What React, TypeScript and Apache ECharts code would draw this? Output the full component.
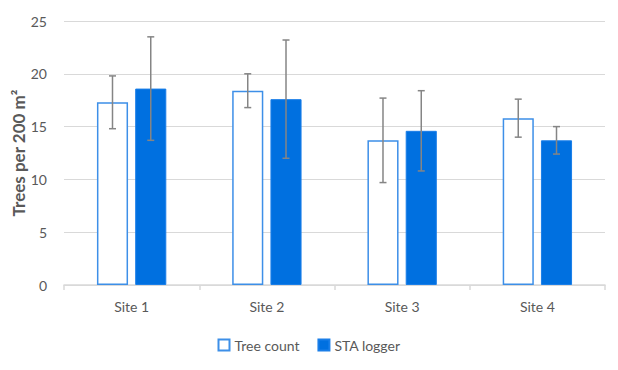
import React, { useEffect, useRef } from "react";
import * as echarts from "echarts";

const categories = ["Site 1", "Site 2", "Site 3", "Site 4"];
const treeCount = [17.3, 18.4, 13.7, 15.8];
const treeCountErr = [2.5, 1.6, 4.0, 1.8];
const staLogger = [18.6, 17.6, 14.6, 13.7];
const staLoggerErr = [4.9, 5.6, 3.8, 1.3];
const yTicks = { min: 0, max: 25, interval: 5 };

const FONT = "Lato, 'Open Sans', sans-serif";
const BAR_W = 0.23;
const BAR_GAP = 0.23;

function errSeries(vals: number[], errs: number[], side: number) {
  return {
    type: "custom",
    silent: true,
    z: 5,
    data: vals.map((v, i) => [i, v - errs[i], v + errs[i]]),
    encode: { x: 0, y: [1, 2] },
    renderItem: (params: any, api: any) => {
      const idx = api.value(0);
      const lo = api.coord([idx, api.value(1)]);
      const hi = api.coord([idx, api.value(2)]);
      const catW = api.size([1, 0])[0];
      const bw = catW * BAR_W;
      const off = side * (bw + bw * BAR_GAP) / 2;
      const x = lo[0] + off;
      const cap = 3.5;
      const style = { stroke: "#858585", lineWidth: 1.5 };
      return {
        type: "group",
        children: [
          { type: "line", shape: { x1: x, y1: hi[1], x2: x, y2: lo[1] }, style },
          { type: "line", shape: { x1: x - cap, y1: hi[1], x2: x + cap, y2: hi[1] }, style },
          { type: "line", shape: { x1: x - cap, y1: lo[1], x2: x + cap, y2: lo[1] }, style },
        ],
      };
    },
  };
}

export default function App() {
  const ref = useRef<HTMLDivElement>(null);
  useEffect(() => {
    const chart = echarts.init(ref.current!, null, { renderer: "svg" });
    chart.setOption({
      animation: false,
      textStyle: { fontFamily: FONT },
      grid: { left: 64, right: 13, top: 21, bottom: 85, containLabel: false, outerBoundsMode: "none" },
      legend: {
        bottom: 13,
        left: "center",
        itemWidth: 11,
        itemHeight: 11,
        itemGap: 18,
        icon: "rect",
        textStyle: { fontSize: 14, color: "#595959", fontFamily: FONT },
        data: ["Tree count", "STA logger"],
      },
      xAxis: {
        type: "category",
        data: categories,
        axisLine: { lineStyle: { color: "#d9d9d9", width: 1.5 } },
        axisTick: { show: true, length: 5, lineStyle: { color: "#d9d9d9", width: 1.5 } },
        axisLabel: { color: "#595959", fontSize: 14, margin: 14, fontFamily: FONT },
      },
      yAxis: {
        type: "value",
        min: yTicks.min,
        max: yTicks.max,
        interval: yTicks.interval,
        name: "Trees per 200 m²",
        nameLocation: "middle",
        nameGap: 37,
        nameMoveOverlap: false,
        nameTextStyle: { color: "#595959", fontSize: 17, fontWeight: "bold", fontFamily: FONT },
        axisLine: { show: false },
        axisTick: { show: false },
        axisLabel: { color: "#595959", fontSize: 14, margin: 17, fontFamily: FONT },
        splitLine: { lineStyle: { color: "#d9d9d9", width: 1.2 } },
      },
      series: [
        {
          name: "Tree count",
          type: "bar",
          data: treeCount,
          barWidth: BAR_W * 100 + "%",
          barGap: BAR_GAP * 100 + "%",
          itemStyle: { color: "#ffffff", borderColor: "#3d8fe8", borderWidth: 1.5 },
        },
        {
          name: "STA logger",
          type: "bar",
          data: staLogger,
          barWidth: BAR_W * 100 + "%",
          barGap: BAR_GAP * 100 + "%",
          itemStyle: { color: "#0070e0", borderColor: "#1a7ee8", borderWidth: 1 },
        },
        errSeries(treeCount, treeCountErr, -1),
        errSeries(staLogger, staLoggerErr, 1),
      ],
    });
    return () => chart.dispose();
  }, []);
  return <div ref={ref} style={{ width: 618, height: 370, margin: -8 }} />;
}
